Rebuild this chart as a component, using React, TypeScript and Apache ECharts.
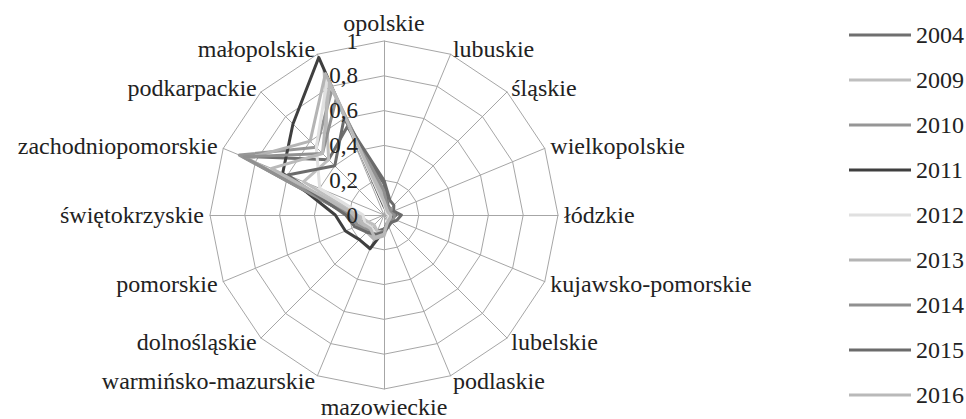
import React, { useEffect, useRef } from "react";
import * as echarts from "echarts";

// Categories in clockwise order starting at the top
const categories = [
  "opolskie",
  "lubuskie",
  "śląskie",
  "wielkopolskie",
  "łódzkie",
  "kujawsko-pomorskie",
  "lubelskie",
  "podlaskie",
  "mazowieckie",
  "warmińsko-mazurskie",
  "dolnośląskie",
  "pomorskie",
  "świętokrzyskie",
  "zachodniopomorskie",
  "podkarpackie",
  "małopolskie",
];

const years = ["2004", "2009", "2010", "2011", "2012", "2013", "2014", "2015", "2016"];
const yearColors = ["#6f6f6f", "#bfbfbf", "#969696", "#3f3f3f", "#e0e0e0", "#b4b4b4", "#909090", "#6b6b6b", "#b9b9b9"];

const v2004 = [0.18, 0.06, 0.05, 0.04, 0.07, 0.05, 0.04, 0.06, 0.08, 0.1, 0.1, 0.12, 0.2, 0.88, 0.45, 0.55];
const v2009 = [0.08, 0.03, 0.03, 0.02, 0.03, 0.03, 0.03, 0.05, 0.1, 0.1, 0.08, 0.1, 0.15, 0.5, 0.45, 0.9];
const v2010 = [0.12, 0.04, 0.04, 0.03, 0.05, 0.05, 0.04, 0.05, 0.1, 0.12, 0.12, 0.16, 0.2, 0.9, 0.55, 0.78];
const v2011 = [0.05, 0.03, 0.03, 0.04, 0.05, 0.04, 0.03, 0.05, 0.09, 0.21, 0.2, 0.24, 0.28, 0.63, 0.74, 0.98];
const v2012 = [0.06, 0.03, 0.02, 0.02, 0.03, 0.03, 0.03, 0.05, 0.1, 0.12, 0.1, 0.12, 0.12, 0.4, 0.55, 0.85];
const v2013 = [0.1, 0.04, 0.03, 0.03, 0.04, 0.04, 0.04, 0.06, 0.12, 0.15, 0.14, 0.14, 0.18, 0.85, 0.6, 0.88];
const v2014 = [0.14, 0.05, 0.05, 0.04, 0.06, 0.06, 0.05, 0.05, 0.09, 0.13, 0.13, 0.16, 0.2, 0.87, 0.5, 0.72];
const v2015 = [0.2, 0.09, 0.08, 0.06, 0.1, 0.08, 0.06, 0.07, 0.1, 0.12, 0.14, 0.18, 0.22, 0.6, 0.4, 0.6];
const v2016 = [0.08, 0.04, 0.03, 0.03, 0.04, 0.04, 0.04, 0.05, 0.11, 0.14, 0.11, 0.13, 0.16, 0.7, 0.5, 0.82];
const seriesValues = [v2004, v2009, v2010, v2011, v2012, v2013, v2014, v2015, v2016];

const tickValues = [0, 0.2, 0.4, 0.6, 0.8, 1];

const FONT = "Liberation Serif";
const TEXT_COLOR = "#222222";

// ECharts radar runs counter-clockwise; reorder so the picture runs clockwise
function ccw(arr: any[]): any[] {
  return [arr[0]].concat(arr.slice(1).reverse());
}

export default function App() {
  const ref = useRef<HTMLDivElement>(null);
  useEffect(() => {
    if (!ref.current) return;
    const chart = echarts.init(ref.current, undefined, { renderer: "svg" });
    const cx = 384;
    const cy = 215;
    const R = 174;
    chart.setOption({
      animation: false,
      textStyle: { fontFamily: FONT },
      legend: {
        orient: "vertical",
        left: 844,
        top: 18,
        itemWidth: 62,
        itemHeight: 3,
        itemGap: 21,
        icon: "rect",
        data: years,
        textStyle: { fontFamily: FONT, fontSize: 24, color: TEXT_COLOR },
      },
      radar: {
        center: [cx, cy],
        radius: R,
        startAngle: 90,
        shape: "polygon",
        splitNumber: 5,
        nameGap: 6,
        axisName: { fontFamily: FONT, fontSize: 24, color: TEXT_COLOR },
        axisLine: { lineStyle: { color: "#a6a6a6", width: 1 } },
        splitLine: { lineStyle: { color: "#a6a6a6", width: 1 } },
        splitArea: { show: false },
        indicator: ccw(categories).map((n) => ({ name: n, min: 0, max: 1 })),
      },
      grid: { left: cx, top: cy - R, width: 1, height: R },
      xAxis: { type: "value", show: false },
      yAxis: {
        type: "value",
        min: 0,
        max: 1,
        interval: 0.2,
        z: 10,
        axisLine: { show: false },
        axisTick: { show: false },
        splitLine: { show: false },
        axisLabel: {
          margin: 26,
          fontFamily: FONT,
          fontSize: 23,
          color: TEXT_COLOR,
          formatter: (v: number) => (tickValues.includes(Math.round(v * 10) / 10) ? String(Math.round(v * 10) / 10).replace(".", ",") : ""),
        },
      },
      series: [
        {
          type: "radar",
          symbol: "none",
          data: years.map((y, i) => ({
            name: y,
            value: ccw(seriesValues[i]),
            lineStyle: { color: yearColors[i], width: 3 },
            itemStyle: { color: yearColors[i] },
          })),
        },
      ],
    });
    return () => chart.dispose();
  }, []);
  return (
    <>
      <style>{`.radar-chart svg text { font-family: "Liberation Serif", "Times New Roman", serif !important; }`}</style>
      <div
        ref={ref}
        className="radar-chart"
        style={{ position: "absolute", left: 0, top: 0, width: 966, height: 419, background: "#ffffff" }}
      />
    </>
  );
}
